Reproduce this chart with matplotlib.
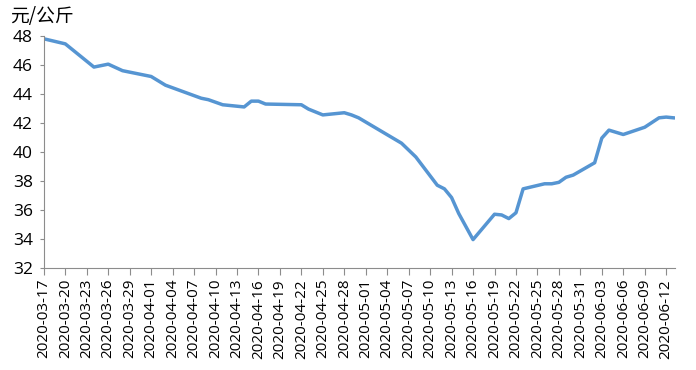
import matplotlib
matplotlib.use("Agg")
import matplotlib.pyplot as plt
import numpy as np
from datetime import datetime, timedelta

# price series (元/公斤)
dates = ['2020-03-17', '2020-03-20', '2020-03-24', '2020-03-26', '2020-03-28',
         '2020-04-01', '2020-04-03', '2020-04-08', '2020-04-09', '2020-04-11',
         '2020-04-14', '2020-04-15', '2020-04-16', '2020-04-17', '2020-04-22',
         '2020-04-23', '2020-04-25', '2020-04-28', '2020-04-29', '2020-04-30',
         '2020-05-06', '2020-05-08', '2020-05-11', '2020-05-12', '2020-05-13',
         '2020-05-14', '2020-05-16', '2020-05-19', '2020-05-20', '2020-05-21',
         '2020-05-22', '2020-05-23', '2020-05-26', '2020-05-27', '2020-05-28',
         '2020-05-29', '2020-05-30', '2020-06-02', '2020-06-03', '2020-06-04',
         '2020-06-06', '2020-06-09', '2020-06-11', '2020-06-12', '2020-06-13']
prices = [47.8, 47.45, 45.85, 46.05, 45.6,
          45.2, 44.6, 43.7, 43.6, 43.25,
          43.1, 43.5, 43.5, 43.3, 43.25,
          42.95, 42.55, 42.7, 42.55, 42.35,
          40.6, 39.65, 37.7, 37.45, 36.85,
          35.75, 33.95, 35.7, 35.65, 35.4,
          35.8, 37.45, 37.8, 37.8, 37.9,
          38.25, 38.4, 39.25, 40.95, 41.5,
          41.2, 41.7, 42.35, 42.4, 42.35]

start = datetime(2020, 3, 17)
tick_dates = [start + timedelta(days=3 * i) for i in range(30)]
tick_labels = [d.strftime('%Y-%m-%d') for d in tick_dates]

x = [datetime.strptime(d, '%Y-%m-%d') for d in dates]

fig = plt.figure(figsize=(6.96, 3.70), dpi=100)
ax = fig.add_axes([0.063, 0.276, 0.907, 0.627])

ax.plot(x, prices, color='#5695D2', linewidth=2.5, solid_joinstyle='round')

ax.set_ylim(32, 48)
ax.set_yticks(np.arange(32, 49, 2))
ax.set_xlim(start, datetime(2020, 6, 13, 6))
ax.set_xticks(tick_dates)
ax.set_xticklabels(tick_labels, rotation=90, fontsize=11,
                   family=['Open Sans', 'DejaVu Sans'])
for lab in ax.get_yticklabels():
    lab.set_fontfamily(['Open Sans', 'DejaVu Sans'])
    lab.set_fontsize(12.5)

for s in ['top', 'right']:
    ax.spines[s].set_visible(False)
for s in ['left', 'bottom']:
    ax.spines[s].set_color('#8c8c8c')
    ax.spines[s].set_linewidth(0.8)
ax.tick_params(axis='x', direction='out', length=5, color='#8c8c8c', pad=3)
ax.tick_params(axis='y', direction='out', length=3, color='#8c8c8c', pad=5)

fig.text(0.014, 0.955, '元/公斤', fontsize=13.5, family=['Noto Sans CJK SC', 'DejaVu Sans'],
         va='center', ha='left')

fig.savefig('out.png', dpi=100)
